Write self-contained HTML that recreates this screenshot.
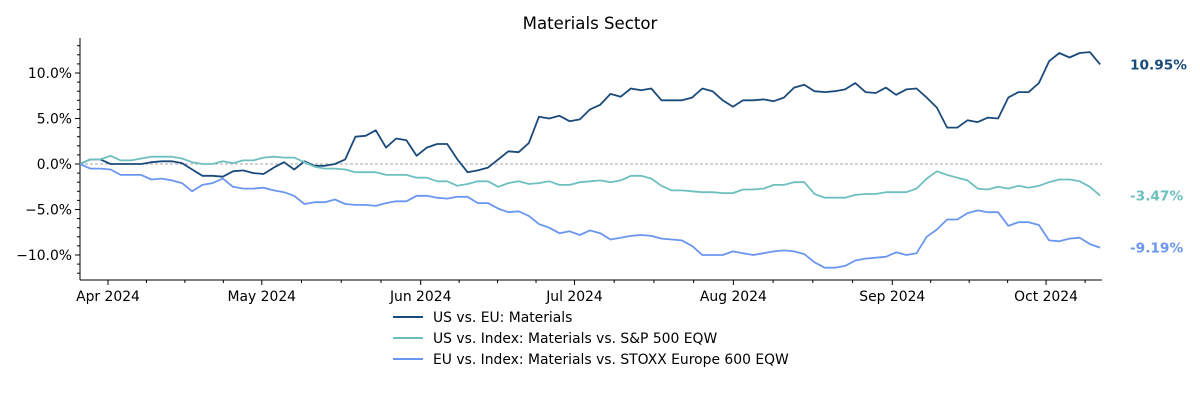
<!DOCTYPE html>
<html><head><meta charset="utf-8"><style>
body{margin:0;background:#fff;width:1200px;height:400px;overflow:hidden}
svg text{font-family:"DejaVu Sans","Liberation Sans",sans-serif}
</style></head><body>
<svg id="chart" width="1200" height="400" viewBox="0 0 1200 400" xmlns="http://www.w3.org/2000/svg">
<text x="590" y="29" text-anchor="middle" font-size="16.6" fill="#000">Materials Sector</text>
<g id="axes"></g>
<g id="series"></g>
<g id="labels"></g>
<g>
<line x1="393" y1="317" x2="423" y2="317" stroke="#1a4a7a" stroke-width="2"/>
<text x="433" y="322" font-size="13.9">US vs. EU: Materials</text>
<line x1="393" y1="338" x2="423" y2="338" stroke="#6ec0c0" stroke-width="2"/>
<text x="433" y="343" font-size="13.9">US vs. Index: Materials vs. S&amp;P 500 EQW</text>
<line x1="393" y1="359" x2="423" y2="359" stroke="#6b96f0" stroke-width="2"/>
<text x="433" y="364" font-size="13.9">EU vs. Index: Materials vs. STOXX Europe 600 EQW</text>
</g>
</svg>
<script>
const monthLabels=["Apr 2024","May 2024","Jun 2024","Jul 2024","Aug 2024","Sep 2024","Oct 2024"];
const monthDays=[0,30,61,91,122,153,183];
const yTicks=[10,5,0,-5,-10];
const startDay=-5.46;
const stepDays=1.99;
const usEu=[0,0.5,0.5,0,0,0,0,0.2,0.3,0.3,0.1,-0.6,-1.3,-1.3,-1.4,-0.8,-0.7,-1.0,-1.1,-0.4,0.2,-0.6,0.3,-0.2,-0.2,0,0.5,3.0,3.1,3.7,1.8,2.8,2.6,0.9,1.8,2.2,2.2,0.5,-0.9,-0.7,-0.4,0.5,1.4,1.3,2.3,5.2,5.0,5.3,4.7,4.9,6.0,6.5,7.7,7.4,8.3,8.1,8.3,7.0,7.0,7.0,7.3,8.3,8.0,7.0,6.3,7.0,7.0,7.1,6.9,7.3,8.4,8.7,8.0,7.9,8.0,8.2,8.9,7.9,7.8,8.4,7.6,8.2,8.3,7.3,6.2,4.0,4.0,4.8,4.6,5.1,5.0,7.3,7.9,7.9,8.9,11.3,12.2,11.7,12.2,12.3,10.95];
const usIndex=[0,0.5,0.5,0.9,0.4,0.4,0.6,0.8,0.8,0.8,0.6,0.2,0,0,0.3,0.1,0.4,0.4,0.7,0.8,0.7,0.7,0.2,-0.3,-0.5,-0.5,-0.6,-0.9,-0.9,-0.9,-1.2,-1.2,-1.2,-1.5,-1.5,-1.9,-1.9,-2.4,-2.2,-1.9,-1.9,-2.5,-2.1,-1.9,-2.2,-2.1,-1.9,-2.3,-2.3,-2.0,-1.9,-1.8,-2.0,-1.8,-1.3,-1.3,-1.6,-2.4,-2.9,-2.9,-3.0,-3.1,-3.1,-3.2,-3.2,-2.8,-2.8,-2.7,-2.3,-2.3,-2.0,-2.0,-3.3,-3.7,-3.7,-3.7,-3.4,-3.3,-3.3,-3.1,-3.1,-3.1,-2.7,-1.6,-0.8,-1.2,-1.5,-1.8,-2.7,-2.8,-2.5,-2.7,-2.4,-2.6,-2.4,-2.0,-1.7,-1.7,-1.9,-2.5,-3.47];
const euIndex=[0,-0.5,-0.5,-0.6,-1.2,-1.2,-1.2,-1.7,-1.6,-1.8,-2.1,-3.0,-2.3,-2.1,-1.6,-2.5,-2.7,-2.7,-2.6,-2.9,-3.1,-3.5,-4.4,-4.2,-4.2,-3.9,-4.4,-4.5,-4.5,-4.6,-4.3,-4.1,-4.1,-3.5,-3.5,-3.7,-3.8,-3.6,-3.6,-4.3,-4.3,-4.9,-5.3,-5.2,-5.7,-6.6,-7.0,-7.6,-7.4,-7.8,-7.3,-7.6,-8.3,-8.1,-7.9,-7.8,-7.9,-8.2,-8.3,-8.4,-9.0,-10.0,-10.0,-10.0,-9.6,-9.8,-10.0,-9.8,-9.6,-9.5,-9.6,-9.9,-10.8,-11.4,-11.4,-11.2,-10.6,-10.4,-10.3,-10.2,-9.7,-10.0,-9.8,-8.0,-7.2,-6.1,-6.1,-5.4,-5.1,-5.3,-5.3,-6.8,-6.4,-6.4,-6.7,-8.4,-8.5,-8.2,-8.1,-8.8,-9.19];
const endLabels=["10.95%","-3.47%","-9.19%"];

const NS="http://www.w3.org/2000/svg";
const X0=80,X1=1102,Y0=38,Y1=280;
function xs(d){return 108+d*5.126;}
function ys(v){return 164-v*9.1;}
function mk(tag,attrs,parent){const e=document.createElementNS(NS,tag);for(const k in attrs)e.setAttribute(k,attrs[k]);parent.appendChild(e);return e;}
const axes=document.getElementById('axes');
let a=mk('line',{x1:X0,y1:Y0,x2:X0,y2:Y1,stroke:'#000','stroke-width':1},axes);


a=mk('line',{x1:X0,y1:Y1,x2:X1,y2:Y1,stroke:'#000','stroke-width':1},axes);


a=mk('line',{x1:X0,y1:ys(0),x2:X1,y2:ys(0),stroke:'#888','stroke-width':0.8,'stroke-dasharray':'3,2'},axes);


for(let v=-12;v<=13;v++){const y=ys(v);if(y<Y0||y>Y1)continue;mk('line',{x1:X0-(v%5==0?5:3),y1:y,x2:X0,y2:y,stroke:'#000','stroke-width':1},axes);}
yTicks.forEach(v=>{const t=mk('text',{x:X0-8,y:ys(v)+5,'text-anchor':'end','font-size':13.9},axes);t.textContent=(v<0?'\u2212'+Math.abs(v).toFixed(1):v.toFixed(1))+'%';

});
monthDays.forEach((d,i)=>{const x=xs(d);mk('line',{x1:x,y1:Y1,x2:x,y2:Y1+5,stroke:'#000'},axes);
const t=mk('text',{x:x,y:Y1+21,'text-anchor':'middle','font-size':13.9},axes);t.textContent=monthLabels[i];


const nd=i<monthDays.length-1?monthDays[i+1]:d+30.5;
for(let k=1;k<4;k++){const mx=xs(d+(nd-d)*k/4);if(mx<X1)mk('line',{x1:mx,y1:Y1,x2:mx,y2:Y1+3,stroke:'#000'},axes);}});
const ser=document.getElementById('series');
const defs=[[usEu,'#1a4a7a','line-us-vs-eu'],[usIndex,'#6ec0c0','line-us-vs-index'],[euIndex,'#6b96f0','line-eu-vs-index']];
const labs=document.getElementById('labels');
defs.forEach((s,si)=>{const pts=s[0].map((v,i)=>xs(startDay+i*stepDays).toFixed(1)+','+ys(v).toFixed(1)).join(' ');
const p=mk('polyline',{points:pts,fill:'none',stroke:s[1],'stroke-width':1.8,'stroke-linejoin':'round'},ser);


const last=s[0][s[0].length-1];
const t=mk('text',{x:1130,y:ys(last)+5,'font-size':13.7,'font-weight':'bold',fill:s[1]},labs);t.textContent=endLabels[si];

});
</script>
</body></html>
